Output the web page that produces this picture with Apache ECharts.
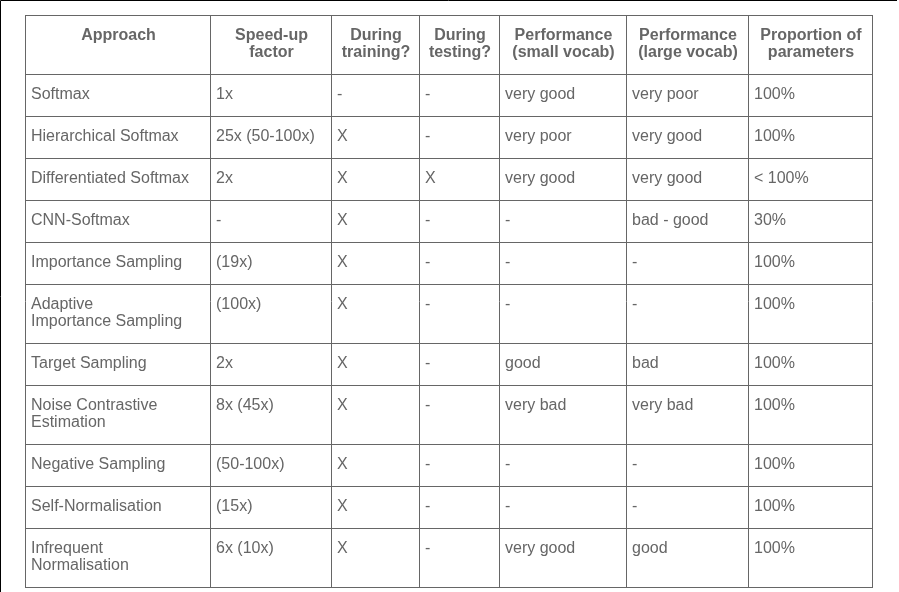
<!DOCTYPE html>
<html><head><meta charset="utf-8">
<script src="https://cdn.jsdelivr.net/npm/echarts@6/dist/echarts.min.js"></script>
<style>html,body{margin:0;padding:0;background:#fff}#c{width:899px;height:592px}</style>
</head><body><div id="c"></div>
<script>
const headers = ["Approach","Speed-up\nfactor","During\ntraining?","During\ntesting?","Performance\n(small vocab)","Performance\n(large vocab)","Proportion of\nparameters"];
const approaches = ["Softmax","Hierarchical Softmax","Differentiated Softmax","CNN-Softmax","Importance Sampling","Adaptive\nImportance Sampling","Target Sampling","Noise Contrastive\nEstimation","Negative Sampling","Self-Normalisation","Infrequent\nNormalisation"];
const speedup = ["1x","25x (50-100x)","2x","-","(19x)","(100x)","2x","8x (45x)","(50-100x)","(15x)","6x (10x)"];
const duringTraining = ["-","X","X","X","X","X","X","X","X","X","X"];
const duringTesting = ["-","-","X","-","-","-","-","-","-","-","-"];
const perfSmall = ["very good","very poor","very good","-","-","-","good","very bad","-","-","very good"];
const perfLarge = ["very poor","very good","very good","bad - good","-","-","bad","very bad","-","-","good"];
const proportion = ["100%","100%","< 100%","30%","100%","100%","100%","100%","100%","100%","100%"];

const colX = [25,210,331,419,499,626,748,872];
const rowY = [15,74,116,158,200,242,284,343,385,444,486,528,587];
const columns = [approaches,speedup,duringTraining,duringTesting,perfSmall,perfLarge,proportion];
const font = '"Liberation Sans", Arial, sans-serif';
const col = '#666';
const els = [];
// outer frame lines (top/left)
els.push({type:'polyline',shape:{points:[[0.5,592],[0.5,0.5],[897,0.5]]},style:{stroke:'#000',lineWidth:1,fill:null}});
// grid lines
rowY.forEach(y=>els.push({type:'line',shape:{x1:colX[0],y1:y+0.5,x2:colX[7]+1,y2:y+0.5},style:{stroke:'#666',lineWidth:1}}));
colX.forEach(x=>els.push({type:'line',shape:{x1:x+0.5,y1:rowY[0],x2:x+0.5,y2:rowY[12]+1},style:{stroke:'#666',lineWidth:1}}));
// headers
headers.forEach((h,i)=>{
  els.push({type:'text',x:(colX[i]+colX[i+1])/2+1,y:rowY[0]+12,style:{text:h,font:'bold 16px '+font,fill:col,align:'center',verticalAlign:'top',lineHeight:17}});
});
// body
columns.forEach((arr,c)=>{
  arr.forEach((t,r)=>{
    els.push({type:'text',x:colX[c]+6,y:rowY[r+1]+12,style:{text:t,font:'16px '+font,fill:col,align:'left',verticalAlign:'top',lineHeight:17}});
  });
});
const chart = echarts.init(document.getElementById('c'));
chart.setOption({animation:false,graphic:{elements:els}});
</script></body></html>
